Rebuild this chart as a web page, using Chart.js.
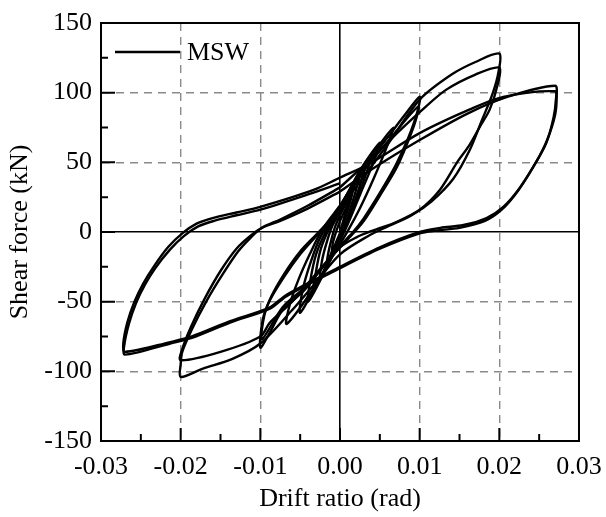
<!DOCTYPE html>
<html><head><meta charset="utf-8">
<script src="https://cdn.jsdelivr.net/npm/chart.js@4.4.1/dist/chart.umd.min.js"></script>
<style>html,body{margin:0;padding:0;background:#fff;}</style>
</head><body>
<canvas id="c" width="606" height="517"></canvas>
<script>
const seriesName = 'MSW';
const xTitle = 'Drift ratio (rad)';
const yTitle = 'Shear force (kN)';
const xTickLabels = ['-0.03','-0.02','-0.01','0.00','0.01','0.02','0.03'];
const yTickLabels = ['-150','-100','-50','0','50','100','150'];
const xMajorTicks = [-0.03,-0.02,-0.01,0,0.01,0.02,0.03];
const xMinorTicks = [-0.025,-0.015,-0.005,0.005,0.015,0.025];
const yMajorTicks = [-150,-100,-50,0,50,100,150];
const yMinorTicks = [-125,-75,-25,25,75,125];

// hysteresis loops: [drift (rad), shear force (kN)]
const loop0010 = [[0,0],[0.0005,10],[0.001,20],[0.0007,12],[0.0002,2],[-0.0004,-6],[-0.001,-15],[-0.0009,-8],[-0.0005,0],[0,8]];
const loop0017 = [[0,8],[0.0008,18],[0.0017,32],[0.0013,22],[0.0006,9],[0,-2],[-0.0008,-12],[-0.0017,-26],[-0.0015,-16],[-0.0011,-6],[-0.0006,4],[0,12]];
const loop0025 = [[0,12],[0.0012,26],[0.0025,42],[0.002,30],[0.0012,15],[0.0003,0],[-0.001,-14],[-0.0025,-34],[-0.0023,-22],[-0.0018,-10],[-0.001,4],[0,14]];
const loop0033 = [[0,14],[0.0016,32],[0.0033,50],[0.0027,37],[0.0016,18],[0.0005,1],[-0.001,-16],[-0.0033,-42],[-0.003,-28],[-0.0024,-12],[-0.0014,2],[0,16]];
const loop0040 = [[0,16],[0.002,38],[0.004,56],[0.0033,42],[0.002,22],[0.0006,2],[-0.0012,-20],[-0.004,-50],[-0.0037,-34],[-0.003,-16],[-0.0018,0],[0,17]];
const loop0050 = [[0,17],[0.0025,44],[0.005,64],[0.0042,50],[0.0026,28],[0.001,6],[-0.0008,-15],[-0.0028,-36],[-0.005,-58],[-0.0047,-42],[-0.0037,-22],[-0.0024,-3],[0,18]];
const loop0067 = [[0,18],[0.003,48],[0.005,63],[0.0067,75],[0.0058,60],[0.0042,38],[0.0025,17],[0.001,1],[-0.001,-18],[-0.0035,-42],[-0.0067,-66],[-0.0063,-52],[-0.0052,-34],[-0.0038,-16],[-0.0022,2],[0,19]];
const loop0100a = [[0,19],[0.003,46],[0.006,68],[0.008,83],[0.01,97],[0.0097,86],[0.0086,68],[0.007,48],[0.005,28],[0.003,10],[0.0015,-1],[0,-10],[-0.002,-24],[-0.0045,-42],[-0.0072,-56],[-0.0088,-72],[-0.01,-83],[-0.0097,-63],[-0.0088,-49],[-0.007,-32],[-0.005,-16],[-0.003,-3],[-0.0015,7],[0,18]];
const loop0100b = [[0,18],[0.003,44],[0.006,65],[0.0098,90],[0.0095,80],[0.0084,63],[0.007,45],[0.005,26],[0.003,8],[0.0015,-2],[0,-11],[-0.002,-24],[-0.0045,-40],[-0.0072,-54],[-0.0098,-77],[-0.0095,-60],[-0.0086,-46],[-0.007,-30],[-0.005,-14],[-0.003,-2],[-0.0015,7],[0,17]];
const loop0200a = [[0,17],[0.003,40],[0.006,63],[0.01,95],[0.014,113],[0.017,122],[0.02,128],[0.0199,115],[0.0192,100],[0.0178,80],[0.0163,59],[0.0142,38],[0.0115,22],[0.009,12],[0.006,4],[0.0035,-3],[0,-16],[-0.003,-36],[-0.006,-56],[-0.01,-80],[-0.0135,-91],[-0.0172,-98],[-0.02,-104],[-0.02,-95],[-0.0198,-86],[-0.0186,-70],[-0.0168,-50],[-0.0148,-31],[-0.0128,-14],[-0.0112,-4],[-0.0098,3],[-0.0075,9],[-0.004,19],[0,32]];
const loop0200b = [[0,32],[0.004,53],[0.007,70],[0.01,86],[0.0133,102],[0.017,113],[0.02,118],[0.0198,106],[0.0188,88],[0.0176,76],[0.0162,62],[0.0147,50],[0.0125,30],[0.01,16],[0.007,7],[0.0041,1],[0.002,-4],[0,-11],[-0.003,-30],[-0.006,-50],[-0.0088,-65],[-0.01,-75],[-0.015,-86],[-0.02,-92],[-0.0198,-84],[-0.0187,-68],[-0.017,-48],[-0.015,-28],[-0.013,-12],[-0.0113,-3],[-0.0098,3],[-0.0075,8],[-0.004,17],[0,29]];
const loop0270a = [[0,29],[0.004,45],[0.01,66],[0.016,85],[0.021,97],[0.027,105],[0.0272,98],[0.027,84],[0.026,66],[0.0247,51],[0.0226,32],[0.0205,18],[0.0184,10],[0.0155,5],[0.0126,3],[0.01,0],[0.005,-11],[0,-25],[-0.0067,-45],[-0.0088,-54],[-0.0138,-64],[-0.0186,-75],[-0.0213,-79],[-0.027,-86],[-0.0272,-80],[-0.0267,-65],[-0.0258,-50],[-0.0247,-37],[-0.0234,-25],[-0.0216,-11],[-0.0198,-1],[-0.018,6],[-0.016,10],[-0.013,14],[-0.01,18],[-0.0034,30],[0,39]];
const loop0270b = [[0,39],[0.0037,49],[0.01,71],[0.0163,88],[0.0205,97],[0.027,101],[0.0271,95],[0.0268,82],[0.0259,64],[0.0245,49],[0.0224,30],[0.0203,16],[0.0182,8],[0.015,3],[0.012,1],[0.01,-1],[0.005,-12],[0,-26],[-0.0067,-46],[-0.0088,-55],[-0.0138,-65],[-0.0186,-76],[-0.0213,-80],[-0.027,-88],[-0.0271,-82],[-0.0265,-66],[-0.0256,-51],[-0.0245,-38],[-0.0232,-26],[-0.0214,-13],[-0.0196,-3],[-0.0178,4],[-0.0158,8],[-0.013,12],[-0.01,16],[-0.004,27],[0,35]];

const loops = [loop0010,loop0017,loop0025,loop0033,loop0040,loop0050,loop0067,loop0100a,loop0100b,loop0200a,loop0200b,loop0270a,loop0270b];

const FONT = 'Liberation Serif, Times New Roman, serif';
const isZero = v => Math.abs(v) < 1e-9;

const datasets = loops.map((lp, i) => ({
  label: seriesName,
  data: lp.map(p => ({x: p[0], y: p[1]})),
  showLine: true,
  borderColor: '#000',
  borderWidth: 2.4,
  pointRadius: 0,
  pointHoverRadius: 0,
  tension: 0.3,
  fill: false
}));

const framePlugin = {
  id: 'frame',
  afterDatasetsDraw(chart) {
    const {ctx, chartArea: a, scales: {x, y}} = chart;
    ctx.save();
    ctx.strokeStyle = '#000';
    ctx.lineWidth = 2;
    ctx.strokeRect(a.left, a.top, a.right - a.left, a.bottom - a.top);
    ctx.beginPath();
    xMajorTicks.forEach(v => { const px = x.getPixelForValue(v); ctx.moveTo(px, a.bottom); ctx.lineTo(px, a.bottom - 13); });
    xMinorTicks.forEach(v => { const px = x.getPixelForValue(v); ctx.moveTo(px, a.bottom); ctx.lineTo(px, a.bottom - 7); });
    yMajorTicks.forEach(v => { const py = y.getPixelForValue(v); ctx.moveTo(a.left, py); ctx.lineTo(a.left + 14, py); });
    yMinorTicks.forEach(v => { const py = y.getPixelForValue(v); ctx.moveTo(a.left, py); ctx.lineTo(a.left + 7, py); });
    ctx.stroke();
    // legend
    const lx = a.left + 14, ly = a.top + 29;
    ctx.lineWidth = 2.5;
    ctx.beginPath(); ctx.moveTo(lx, ly); ctx.lineTo(lx + 65, ly); ctx.stroke();
    ctx.fillStyle = '#000';
    ctx.font = '26px ' + FONT;
    ctx.textBaseline = 'middle';
    ctx.textAlign = 'left';
    ctx.fillText(chart.data.datasets[0].label, lx + 72, ly + 1);
    ctx.restore();
  }
};

new Chart(document.getElementById('c'), {
  type: 'scatter',
  data: { datasets },
  options: {
    responsive: false,
    animation: false,
    devicePixelRatio: 1,
    layout: { padding: { left: 0, top: 23, right: 27, bottom: 0 } },
    plugins: { legend: { display: false }, tooltip: { enabled: false } },
    scales: {
      x: {
        type: 'linear', min: -0.03, max: 0.03,
        afterFit: s => { s.height = 76; s.paddingLeft = 0; s.paddingRight = 0; },
        ticks: {
          stepSize: 0.01, autoSkip: false, maxRotation: 0, padding: 11,
          color: '#000', font: { family: FONT, size: 26 },
          callback: (v, i) => xTickLabels[i]
        },
        grid: {
          drawTicks: false,
          color: c => (c.tick && isZero(c.tick.value)) ? '#000' : '#8a8a8a',
          lineWidth: c => (c.tick && isZero(c.tick.value)) ? 1.6 : 1.4
        },
        border: { display: true, color: '#000', width: 2,
          dash: c => (c.tick && isZero(c.tick.value)) ? [] : [8, 6] },
        title: { display: true, text: xTitle, color: '#000',
          font: { family: FONT, size: 26 }, padding: { top: 0, bottom: 2 } }
      },
      y: {
        type: 'linear', min: -150, max: 150,
        afterFit: s => { s.width = 101; s.paddingTop = 0; s.paddingBottom = 0; },
        ticks: {
          stepSize: 50, autoSkip: false, padding: 9,
          color: '#000', font: { family: FONT, size: 26 },
          callback: (v, i) => yTickLabels[i]
        },
        grid: {
          drawTicks: false,
          color: c => (c.tick && isZero(c.tick.value)) ? '#000' : '#8a8a8a',
          lineWidth: c => (c.tick && isZero(c.tick.value)) ? 1.6 : 1.4
        },
        border: { display: true, color: '#000', width: 2,
          dash: c => (c.tick && isZero(c.tick.value)) ? [] : [8, 6] },
        title: { display: true, text: yTitle, color: '#000',
          font: { family: FONT, size: 26 }, padding: { top: 5, bottom: 0 } }
      }
    }
  },
  plugins: [framePlugin]
});
</script>
</body></html>
